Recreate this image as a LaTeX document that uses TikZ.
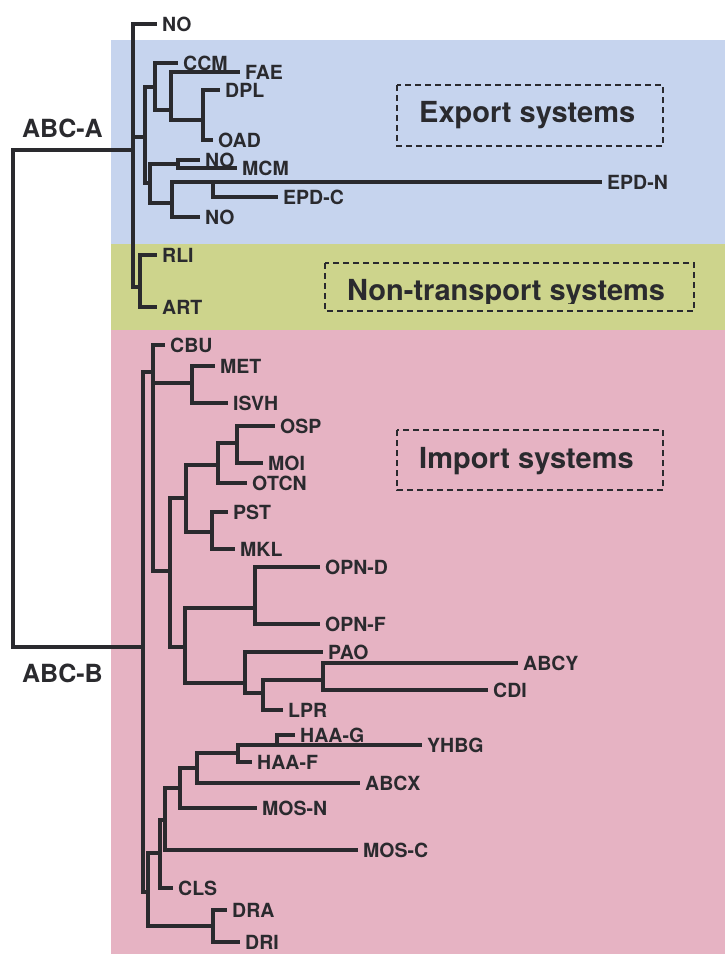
\documentclass[tikz,border=0pt]{standalone}
\usepackage{fontspec}
\setmainfont{TeX Gyre Heros}
\definecolor{exportblue}{RGB}{198,212,238}
\definecolor{nontgreen}{RGB}{205,212,140}
\definecolor{importpink}{RGB}{230,179,195}
\definecolor{branchgray}{RGB}{42,42,46}

\begin{document}
\begin{tikzpicture}[x=1pt, y=-1pt,
        every node/.style={text=branchgray},
        leaf/.style={anchor=west, inner xsep=5pt, inner ysep=0pt, text height=14pt, text depth=0pt,
                     font=\fontsize{19.5}{20}\selectfont\bfseries},
        branch/.style={draw=branchgray, line width=3.4pt},
        clade/.style={anchor=base west, inner sep=0pt, font=\fontsize{25}{26}\selectfont\bfseries},
        sysbox/.style={draw=branchgray, line width=1.6pt, dash pattern=on 6pt off 4pt},
        systext/.style={anchor=base west, inner sep=0pt, font=\fontsize{29}{30}\selectfont\bfseries}
      ]
      \useasboundingbox (0,0) rectangle (725,954);
      \fill[exportblue] (111,40) rectangle (725,244);
      \fill[nontgreen] (111,244) rectangle (725,330);
      \fill[importpink] (111,330) rectangle (725,954);

      \draw[sysbox] (397,85) rectangle (663,146);
      \node[systext] (export) at (419,122) {Export systems};
      \draw[sysbox] (325,263) rectangle (694,311);
      \begin{scope}
        \clip (320,250) rectangle (700,303);
        \node[systext] (nontransport) at (347,300) {Non-transport systems};
      \end{scope}
      \draw[sysbox] (397,430) rectangle (663,490);
      \node[systext] (import) at (419,468) {Import systems};

      \node[clade] (labela) at (22,137) {ABC-A};
      \node[clade] (labelb) at (22,682) {ABC-B};

      \coordinate (root) at (13,400);
      \coordinate (abca) at (133,150);
      \coordinate (abcb) at (143,647);
      \coordinate (exp) at (145,137);
      \coordinate (exp1) at (155,87);
      \coordinate (exp11) at (171,110);
      \coordinate (exp111) at (203,120);
      \coordinate (exp2) at (150,183);
      \coordinate (exp21) at (178,164);
      \coordinate (exp22) at (172,203);
      \coordinate (epd) at (213,182);
      \coordinate (rliart) at (140,287);
      \coordinate (imp1) at (153,372);
      \coordinate (metisvh) at (192,383);
      \coordinate (imp12) at (170,571);
      \coordinate (imp121) at (186,498);
      \coordinate (osp3) at (218,465);
      \coordinate (ospmoi) at (237,443);
      \coordinate (pstmkl) at (212,532);
      \coordinate (imp122) at (185,647);
      \coordinate (opn) at (255,608);
      \coordinate (paolpr) at (245,683);
      \coordinate (cdilpr) at (263,693);
      \coordinate (abcycdi) at (323,680);
      \coordinate (imp2) at (148,892);
      \coordinate (imp21) at (160,853);
      \coordinate (imp211) at (165,820);
      \coordinate (imp2111) at (180,788);
      \coordinate (hab) at (197,768);
      \coordinate (haa) at (238,753);
      \coordinate (haagy) at (277,745);
      \coordinate (dradri) at (213,926);

      \node[leaf] (no1) at (157,24) {NO};
      \node[leaf] (ccm) at (178,63) {CCM};
      \node[leaf] (fae) at (240,72) {FAE};
      \node[leaf] (dpl) at (220,90) {DPL};
      \node[leaf] (oad) at (213,140) {OAD};
      \node[leaf] (no2) at (200,160) {NO};
      \node[leaf] (mcm) at (237,168) {MCM};
      \node[leaf] (epdn) at (602,182) {EPD-N};
      \node[leaf] (epdc) at (278,197) {EPD-C};
      \node[leaf] (no3) at (200,217) {NO};
      \node[leaf] (rli) at (157,255) {RLI};
      \node[leaf] (art) at (157,307) {ART};
      \node[leaf] (cbu) at (165,345) {CBU};
      \node[leaf] (met) at (215,366) {MET};
      \node[leaf] (isvh) at (228,403) {ISVH};
      \node[leaf] (osp) at (275,426) {OSP};
      \node[leaf] (moi) at (263,463) {MOI};
      \node[leaf] (otcn) at (247,483) {OTCN};
      \node[leaf] (pst) at (228,512) {PST};
      \node[leaf] (mkl) at (235,549) {MKL};
      \node[leaf] (opnd) at (320,567) {OPN-D};
      \node[leaf] (opnf) at (320,624) {OPN-F};
      \node[leaf] (pao) at (323,652) {PAO};
      \node[leaf] (abcy) at (518,663) {ABCY};
      \node[leaf] (cdi) at (488,690) {CDI};
      \node[leaf] (lpr) at (283,710) {LPR};
      \node[leaf] (haag) at (295,735) {HAA-G};
      \node[leaf] (yhbg) at (422,745) {YHBG};
      \node[leaf] (haaf) at (252,762) {HAA-F};
      \node[leaf] (abcx) at (360,783) {ABCX};
      \node[leaf] (mosn) at (257,808) {MOS-N};
      \node[leaf] (mosc) at (358,850) {MOS-C};
      \node[leaf] (cls) at (173,888) {CLS};
      \node[leaf] (dra) at (227,910) {DRA};
      \node[leaf] (dri) at (240,942) {DRI};

      \draw[branch] (root) |- (abca) (root) |- (abcb);
      \draw[branch] (abca) |- (no1.west) (abca) |- (exp) (abca) |- (rliart);
      \draw[branch] (exp) |- (exp1) (exp) |- (exp2);
      \draw[branch] (exp1) |- (ccm.west) (exp1) |- (exp11);
      \draw[branch] (exp11) |- (fae.west) (exp11) |- (exp111);
      \draw[branch] (exp111) |- (dpl.west) (exp111) |- (oad.west);
      \draw[branch] (exp2) |- (exp21) (exp2) |- (exp22);
      \draw[branch] (exp21) |- (no2.west) (exp21) |- (mcm.west);
      \draw[branch] (exp22) |- (epd) (exp22) |- (no3.west);
      \draw[branch] (epd) |- (epdn.west) (epd) |- (epdc.west);
      \draw[branch] (rliart) |- (rli.west) (rliart) |- (art.west);

      \draw[branch] (abcb) |- (imp1) (abcb) |- (imp2);
      \draw[branch] (imp1) |- (cbu.west) (imp1) |- (metisvh) (imp1) |- (imp12);
      \draw[branch] (metisvh) |- (met.west) (metisvh) |- (isvh.west);
      \draw[branch] (imp12) |- (imp121) (imp12) |- (imp122);
      \draw[branch] (imp121) |- (osp3) (imp121) |- (pstmkl);
      \draw[branch] (osp3) |- (ospmoi) (osp3) |- (otcn.west);
      \draw[branch] (ospmoi) |- (osp.west) (ospmoi) |- (moi.west);
      \draw[branch] (pstmkl) |- (pst.west) (pstmkl) |- (mkl.west);
      \draw[branch] (imp122) |- (opn) (imp122) |- (paolpr);
      \draw[branch] (opn) |- (opnd.west) (opn) |- (opnf.west);
      \draw[branch] (paolpr) |- (pao.west) (paolpr) |- (cdilpr);
      \draw[branch] (cdilpr) |- (abcycdi) (cdilpr) |- (lpr.west);
      \draw[branch] (abcycdi) |- (abcy.west) (abcycdi) |- (cdi.west);
      \draw[branch] (imp2) |- (imp21) (imp2) |- (dradri);
      \draw[branch] (imp21) |- (imp211) (imp21) |- (cls.west);
      \draw[branch] (imp211) |- (imp2111) (imp211) |- (mosc.west);
      \draw[branch] (imp2111) |- (hab) (imp2111) |- (mosn.west);
      \draw[branch] (hab) |- (haa) (hab) |- (abcx.west);
      \draw[branch] (haa) |- (haagy) (haa) |- (haaf.west);
      \draw[branch] (haagy) |- (haag.west) (haagy) |- (yhbg.west);
      \draw[branch] (dradri) |- (dra.west) (dradri) |- (dri.west);
    \end{tikzpicture}
\end{document}
